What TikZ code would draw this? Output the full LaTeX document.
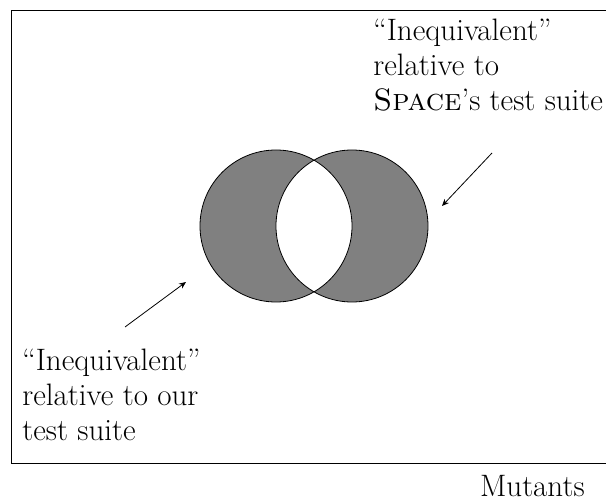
\documentclass[tikz,border=0pt]{standalone}
\usetikzlibrary{positioning,arrows.meta}

\begin{document}
\begin{tikzpicture}[x=0.5pt, y=-0.5pt,
    lbl/.style={align=left, anchor=north west, inner sep=0pt,
      font=\fontsize{15.5}{17.5}\selectfont},
    setring/.style={radius=38pt},
    pointer/.style={-{Stealth[length=3.5pt, width=3pt]}}]
  \useasboundingbox (0,0) rectangle (606,502);
  \clip (0,0) rectangle (606,502);
  \node[draw, rectangle, minimum width=330pt, minimum height=226.5pt,
    anchor=north west, inner sep=0pt] (mutbox) at (11,10.5) {};
  \coordinate (ours) at (276,226);
  \coordinate (space) at (352,226);
  % the two sets, only their difference shaded
  \fill[gray] (ours) circle[setring] (space) circle[setring];
  \begin{scope}
    \clip (ours) circle[setring];
    \fill[white] (space) circle[setring];
  \end{scope}
  \draw (ours) circle[setring] (space) circle[setring];
  \node[lbl] (spacelbl) at (373,19) {``Inequivalent''\\ relative to\\ \textsc{Space}'s test suite};
  \node[lbl] (ourlbl) at (22,349) {``Inequivalent''\\ relative to our\\ test suite};
  \node[font=\fontsize{15.5}{17.5}\selectfont, anchor=base east, inner sep=0pt]
    (mutlbl) at (585,497) {Mutants};
  \coordinate (spacetail) at (492,153);
  \coordinate (spacetip) at (442,206);
  \coordinate (ourtail) at (125,327);
  \coordinate (ourtip) at (186,282);
  \draw[pointer] (spacetail) -- (spacetip);
  \draw[pointer] (ourtail) -- (ourtip);
\end{tikzpicture}
\end{document}
